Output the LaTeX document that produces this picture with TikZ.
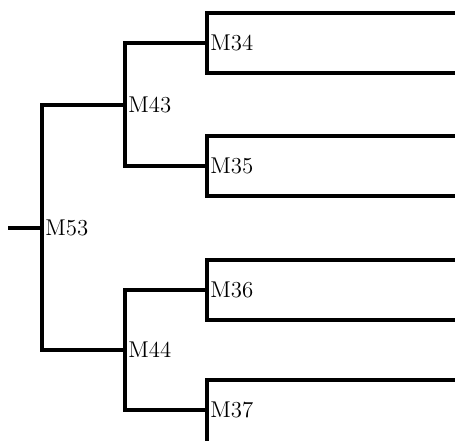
\documentclass[tikz,border=0pt]{standalone}
\begin{document}
\begin{tikzpicture}[x=0.02cm,y=-0.02cm,
    br/.style={line width=0.09cm},
    lbl/.style={anchor=west,inner sep=0pt,font=\fontsize{13}{15}\selectfont}]
    \useasboundingbox (0,0) rectangle (455,440);
    \clip (0,0) rectangle (455,440);

    % junctions of the tree
    \coordinate (root) at (8,228);
    \coordinate (j53) at (42,228);
    \coordinate (j43) at (125,105);
    \coordinate (j44) at (125,350);
    \coordinate (j34) at (207,43);
    \coordinate (j35) at (207,166);
    \coordinate (j36) at (207,290);
    \coordinate (j37) at (207,410);

    % open ends of the leaf brackets
    \coordinate (e34a) at (460,13);  \coordinate (e34b) at (460,73);
    \coordinate (e35a) at (460,136); \coordinate (e35b) at (460,196);
    \coordinate (e36a) at (460,260); \coordinate (e36b) at (460,320);
    \coordinate (e37a) at (460,380); \coordinate (e37b) at (460,443);

    \node[lbl] (m53) at (45,228) {M53};
    \node[lbl] (m43) at (128,105) {M43};
    \node[lbl] (m44) at (128,350) {M44};
    \node[lbl] (m34) at (210,43) {M34};
    \node[lbl] (m35) at (210,166) {M35};
    \node[lbl] (m36) at (210,290) {M36};
    \node[lbl] (m37) at (210,410) {M37};

    \draw[br] (root) -- (j53);
    \draw[br] (j43) -| (j53) |- (j44);

    \draw[br] (j34) -| (j43) |- (j35);
    \draw[br] (j36) -| (j44) |- (j37);

    % leaves
    \draw[br] (e34a) -| (j34) |- (e34b);
    \draw[br] (e35a) -| (j35) |- (e35b);
    \draw[br] (e36a) -| (j36) |- (e36b);
    \draw[br] (e37a) -| (j37) |- (e37b);
\end{tikzpicture}
\end{document}
